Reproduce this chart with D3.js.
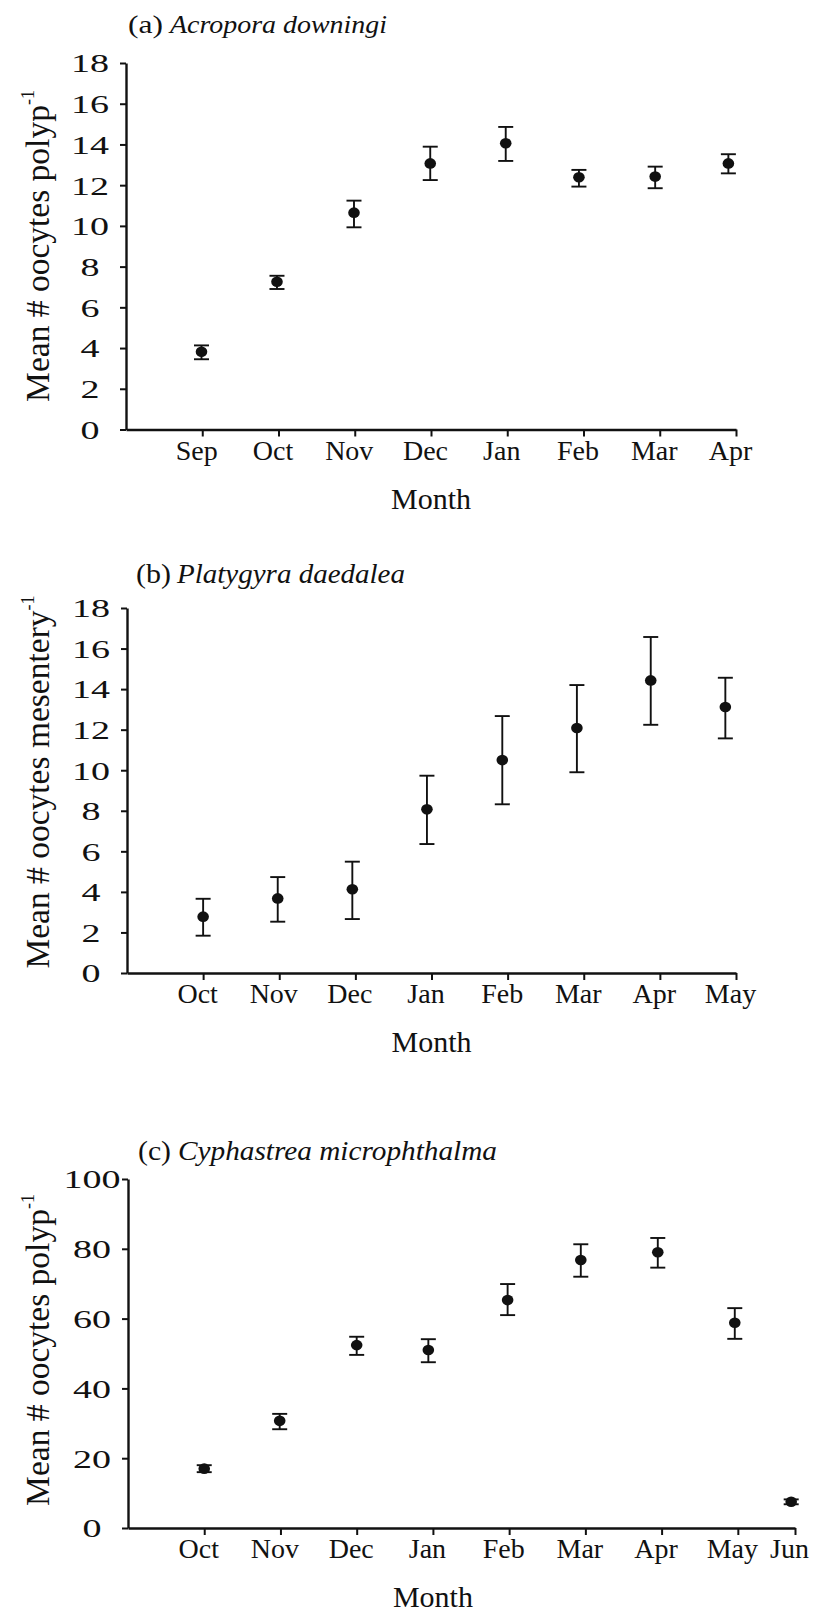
<!DOCTYPE html>
<html><head><meta charset="utf-8">
<script src="https://cdn.jsdelivr.net/npm/d3@7"></script>
<style>html,body{margin:0;padding:0;background:#fff;} svg{display:block;}</style>
</head><body>
<svg id="chart" width="817" height="1614"></svg>
<script>
// ---------- Data ----------
// (a) Acropora downingi
const monthsA = ["Sep","Oct","Nov","Dec","Jan","Feb","Mar","Apr"];
const monthTicksA = [1,2,3,4,5,6,7,8];
const posA   = [0.99,1.98,2.99,3.99,4.98,5.94,6.94,7.90];
const meanA  = [3.82,7.26,10.65,13.07,14.06,12.39,12.42,13.07];
const upperA = [4.13,7.55,11.24,13.89,14.86,12.75,12.91,13.52];
const lowerA = [3.45,6.90,9.93,12.25,13.19,11.93,11.85,12.58];
const yTicksA = [0,2,4,6,8,10,12,14,16,18];

// (b) Platygyra daedalea
const monthsB = ["Oct","Nov","Dec","Jan","Feb","Mar","Apr","May"];
const monthTicksB = [1,2,3,4,5,6,7,8];
const posB   = [1.00,1.98,2.96,3.94,4.93,5.91,6.88,7.86];
const meanB  = [2.78,3.68,4.13,8.07,10.50,12.08,14.43,13.12];
const upperB = [3.66,4.73,5.49,9.73,12.67,14.20,16.57,14.56];
const lowerB = [1.84,2.53,2.66,6.36,8.32,9.90,12.24,11.57];
const yTicksB = [0,2,4,6,8,10,12,14,16,18];

// (c) Cyphastrea microphthalma
const monthsC = ["Oct","Nov","Dec","Jan","Feb","Mar","Apr","May","Jun"];
const monthTicksC = [1,2,3,4,5,6,7,8,8.75];
const posC   = [1.00,1.99,3.00,3.94,4.98,5.94,6.95,7.96,8.70];
const meanC  = [17.0,30.7,52.4,51.0,65.3,76.8,79.0,58.8,7.5];
const upperC = [18.0,32.7,54.8,54.1,69.9,81.3,83.1,63.0,8.2];
const lowerC = [16.0,28.3,49.6,47.5,61.0,72.0,74.6,54.2,6.8];
const yTicksC = [0,20,40,60,80,100];

// ---------- Drawing ----------
const svg = d3.select("#chart");
svg.append("rect").attr("width",817).attr("height",1614).attr("fill","#fff");
const SERIF = "'Liberation Serif','Times New Roman',serif";
const INK = "#111";

function panel(cfg) {
  const x = d3.scaleLinear().domain([0, cfg.xMax]).range([cfg.left, cfg.right]);
  const y = d3.scaleLinear().domain([0, cfg.yMax]).range([cfg.bottom, cfg.top]);

  // title
  const t = svg.append("g").attr("font-family", SERIF).attr("fill", INK).attr("font-size", cfg.titleSize);
  t.append("text").attr("x", cfg.titleX).attr("y", cfg.titleY).text(cfg.tag)
    .attr("textLength", cfg.tagLen).attr("lengthAdjust","spacingAndGlyphs");
  t.append("text").attr("x", cfg.nameX).attr("y", cfg.titleY).attr("font-style","italic").text(cfg.name)
    .attr("textLength", cfg.nameLen).attr("lengthAdjust","spacingAndGlyphs");

  // y axis
  const gy = svg.append("g").attr("transform", `translate(${cfg.left},0)`)
    .call(d3.axisLeft(y).tickValues(cfg.yTicks).tickSize(6).tickSizeOuter(0));
  gy.attr("font-family", SERIF).attr("font-size", 26);
  gy.select(".domain").attr("stroke", INK).attr("stroke-width", 2.4);
  gy.selectAll(".tick line").attr("stroke", INK).attr("stroke-width", 2);
  gy.selectAll(".tick text").attr("fill", INK).attr("x", -36).attr("dy","0.34em")
    .attr("text-anchor","middle")
    .attr("textLength", d => String(d).length * 19)
    .attr("lengthAdjust","spacingAndGlyphs");

  // x axis
  const gx = svg.append("g").attr("transform", `translate(0,${cfg.bottom})`)
    .call(d3.axisBottom(x).tickValues(cfg.monthTicks).tickFormat((d,i) => cfg.months[i])
      .tickSize(7).tickSizeOuter(0));
  gx.attr("font-family", SERIF).attr("font-size", 28);
  gx.select(".domain").attr("stroke", INK).attr("stroke-width", 2.4);
  gx.selectAll(".tick line").attr("stroke", INK).attr("stroke-width", 2);
  gx.selectAll(".tick text").attr("fill", INK).attr("y", 30).attr("dy", 0).attr("dx", -6);

  // x title
  svg.append("text").attr("x", x(4)).attr("y", cfg.bottom + 79).attr("text-anchor","middle")
    .attr("font-family", SERIF).attr("font-size", 30).attr("fill", INK).text("Month");

  // y title
  const yt = svg.append("text")
    .attr("transform", `translate(49,${cfg.yTitleCenter}) rotate(-90)`)
    .attr("text-anchor","middle").attr("font-family", SERIF).attr("font-size", 33.5).attr("fill", INK);
  yt.append("tspan").text(cfg.yLabel);
  yt.append("tspan").attr("font-size", 18).attr("dy", -15).text("-1");

  // error bars & points
  const data = cfg.mean.map((m,i) => ({p: cfg.pos[i], m, u: cfg.upper[i], l: cfg.lower[i]}));
  const g = svg.append("g").attr("stroke", INK).attr("stroke-width", 1.9);
  g.selectAll("line.v").data(data).join("line").attr("class","v")
    .attr("x1", d => x(d.p)).attr("x2", d => x(d.p)).attr("y1", d => y(d.l)).attr("y2", d => y(d.u));
  g.selectAll("line.cu").data(data).join("line").attr("class","cu")
    .attr("x1", d => x(d.p) - 7.5).attr("x2", d => x(d.p) + 7.5).attr("y1", d => y(d.u)).attr("y2", d => y(d.u));
  g.selectAll("line.cl").data(data).join("line").attr("class","cl")
    .attr("x1", d => x(d.p) - 7.5).attr("x2", d => x(d.p) + 7.5).attr("y1", d => y(d.l)).attr("y2", d => y(d.l));
  svg.append("g").selectAll("ellipse").data(data).join("ellipse")
    .attr("cx", d => x(d.p)).attr("cy", d => y(d.m)).attr("rx", 5.8).attr("ry", 5.3).attr("fill", INK);
}

panel({left:126, right:736, top:63, bottom:429.5, xMax:8, yMax:18,
  months: monthsA, monthTicks: monthTicksA, pos: posA, mean: meanA, upper: upperA, lower: lowerA, yTicks: yTicksA,
  tag:"(a)", name:"Acropora downingi", titleX:128, nameX:170, titleY:33, titleSize:26, tagLen:35, nameLen:217,
  yLabel:"Mean # oocytes polyp", yTitleCenter:246});

panel({left:127, right:736, top:608, bottom:973, xMax:8, yMax:18,
  months: monthsB, monthTicks: monthTicksB, pos: posB, mean: meanB, upper: upperB, lower: lowerB, yTicks: yTicksB,
  tag:"(b)", name:"Platygyra daedalea", titleX:136, nameX:177, titleY:583, titleSize:27, tagLen:35, nameLen:228,
  yLabel:"Mean # oocytes mesentery", yTitleCenter:782});

panel({left:128, right:795, top:1179, bottom:1528, xMax:8.75, yMax:100,
  months: monthsC, monthTicks: monthTicksC, pos: posC, mean: meanC, upper: upperC, lower: lowerC, yTicks: yTicksC,
  tag:"(c)", name:"Cyphastrea microphthalma", titleX:138, nameX:178, titleY:1160, titleSize:27, tagLen:33, nameLen:319,
  yLabel:"Mean # oocytes polyp", yTitleCenter:1350});
</script>
</body></html>
